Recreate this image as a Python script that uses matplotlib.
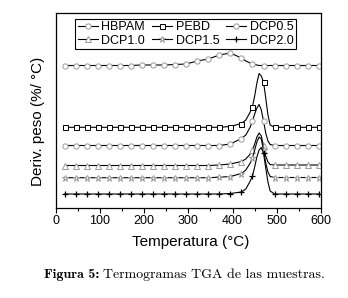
import matplotlib
matplotlib.use("Agg")
import matplotlib.pyplot as plt
from matplotlib.ticker import MultipleLocator

# Temperature grid (°C)
temps = [20, 45, 70, 95, 120, 145, 170, 195, 220, 245, 270, 295, 320, 345, 370, 395,
         420, 430, 440, 445, 450, 455, 460, 465, 470, 475, 480, 485, 495, 520, 545, 570, 595]
marker_idx = list(range(0, 17)) + [19, 24, 28, 29, 30, 31, 32]

# Derivative curves (arbitrary units, vertically offset as in the figure)
hbpam = [142.5, 142.5, 142.5, 142.5, 142.5, 142.5, 142.5, 143, 143, 143, 143.5,
         144, 147, 149, 153, 155, 150, 147, 145, 144, 143.5, 143, 142.5, 142.5, 142.5,
         142.5, 142.5, 142.5, 142.5, 142.5, 142.5, 142.5, 142.5]
pebd = [80.7] * 15 + [81.5, 84.5, 88, 96, 101.5, 112, 125, 134.5, 132, 126, 110, 93, 83,
                      80.7, 80.7, 80.7, 80.7, 80.7]
dcp05 = [62.5] * 15 + [64, 69.5, 73, 81, 87, 94, 100, 103.5, 98, 87, 75, 67, 63.5,
                       62.5, 62.5, 62.5, 62.5, 62.5]
dcp10 = [42.5] * 14 + [43, 44, 46.5, 49, 54, 58, 64, 71, 75, 72, 62, 52, 46, 43.5,
                       43, 43, 43, 43, 43]
dcp15 = [30.3] * 14 + [30.8, 31.5, 34.5, 38, 45, 50, 58, 66, 71, 69, 58, 45, 36, 31.5,
                       30.5, 30.5, 30.5, 30.5, 30.5]
dcp20 = [14] * 15 + [14.5, 16, 19, 27, 32, 41, 51, 58, 60.5, 55, 40, 26, 17,
                     14, 14, 14, 14, 14]

labels = ["HBPAM", "PEBD", "DCP0.5", "DCP1.0", "DCP1.5", "DCP2.0"]
series = [hbpam, pebd, dcp05, dcp10, dcp15, dcp20]
gray = "#9a9a9a"
styles = [
    dict(marker="o", mec=gray, mfc="white", ms=3.8),
    dict(marker="s", mec="black", mfc="white", ms=3.6),
    dict(marker="o", mec=gray, mfc="white", ms=3.8),
    dict(marker="^", mec=gray, mfc="white", ms=3.8),
    dict(marker="*", mec=gray, mfc="white", ms=4.5),
    dict(marker="+", mec="black", mfc="black", ms=5, mew=0.9),
]

plt.rcParams["font.family"] = ["Liberation Sans", "DejaVu Sans"]

W, H = 348, 298
fig = plt.figure(figsize=(W / 100, H / 100), dpi=100)
ax = fig.add_axes([55.7 / W, 1 - 208 / H, (321 - 55.7) / W, (208 - 13) / H])

handles = {}
for lab, ys, st in zip(labels, series, styles):
    st = dict(st)
    st.setdefault("mew", 0.7)
    h, = ax.plot(temps, ys, color="black", lw=0.8, markevery=marker_idx, **st)
    handles[lab] = h

ax.set_xlim(0, 600)
ax.set_ylim(0, 195)
ax.xaxis.set_major_locator(MultipleLocator(100))
ax.xaxis.set_minor_locator(MultipleLocator(50))
ax.set_yticks([])
ax.tick_params(axis="x", which="major", direction="out", length=3.5, width=0.8,
               labelsize=9, pad=1.5)
ax.tick_params(axis="x", which="minor", direction="out", length=2, width=0.8)
for s in ax.spines.values():
    s.set_linewidth(0.9)

ax.set_xlabel("Temperatura (°C)", fontsize=11)
ax.xaxis.set_label_coords(0.51, -(241.7 - 208) / 195, transform=ax.transAxes)
ax.xaxis.label.set_va("center")
ax.set_ylabel("Deriv. peso (%/ °C)", fontsize=11)
ax.yaxis.set_label_coords(-(55.7 - 38.5) / (321 - 55.7), (208 - 121.5) / 195)
ax.yaxis.label.set_va("center")

order = ["HBPAM", "DCP1.0", "PEBD", "DCP1.5", "DCP0.5", "DCP2.0"]
leg = fig.legend([handles[k] for k in order], order, ncol=3, loc="upper left",
                 bbox_to_anchor=(75 / W, 1 - 19 / H), borderaxespad=0,
                 fontsize=9, handlelength=1.6, handletextpad=0.3, columnspacing=0.55,
                 labelspacing=0.1, borderpad=0.2, numpoints=1,
                 frameon=True, fancybox=False, framealpha=1, edgecolor="black")
leg.get_frame().set_linewidth(0.8)

t2 = fig.text(103 / W, 1 - 275 / H, "Termogramas TGA de las muestras.", ha="left",
              va="center", family="cmr10", fontsize=10)
# scale caption font so its width matches the reference
r = fig.canvas.get_renderer()
w = t2.get_window_extent(r).width
fs = t2.get_fontsize() * 222.0 / w
t2.set_fontsize(fs)
t1 = fig.text(99.5 / W, 1 - 275 / H, "Figura 5:", ha="right", va="center",
              family="cmb10", fontsize=fs)

fig.savefig("out.png", dpi=100)
